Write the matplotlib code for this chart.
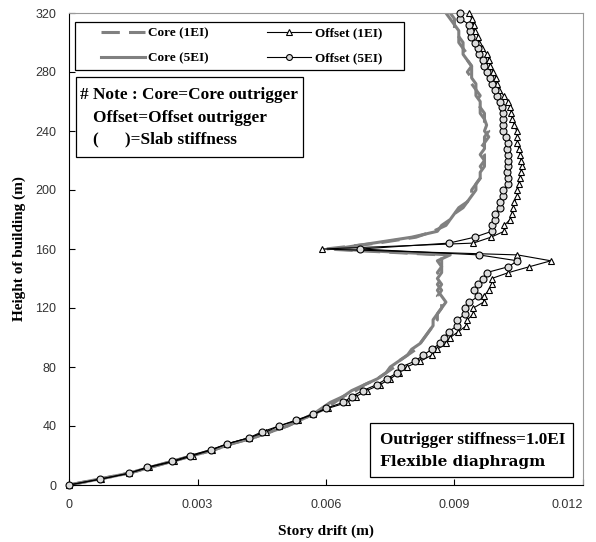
import numpy as np
import matplotlib
matplotlib.use("Agg")
import matplotlib.pyplot as plt
from matplotlib.patches import Rectangle

# story levels (m), one point every 4 m
height = np.arange(0, 324, 4)

core_1ei = [0, 0.0007, 0.0014, 0.0019, 0.0024, 0.0029, 0.0034, 0.0038, 0.0043, 0.0047,
            0.0051, 0.0054, 0.0057, 0.0060, 0.0062, 0.0064, 0.0067, 0.0069, 0.0072, 0.0074,
            0.0076, 0.0077, 0.0079, 0.0081, 0.0082, 0.0083, 0.0084, 0.0085, 0.0086, 0.0086,
            0.0087, 0.0087, 0.0086, 0.0087, 0.0086, 0.0087, 0.0086, 0.0087, 0.0087, 0.0087,
            0.0060, 0.0072, 0.0081, 0.0085, 0.0088, 0.0089, 0.0090, 0.0092, 0.0093, 0.0094,
            0.0094, 0.0095, 0.0096, 0.0097, 0.0096, 0.0097, 0.0097, 0.0096, 0.0097, 0.0097,
            0.0098, 0.0097, 0.0097, 0.0096, 0.0096, 0.0095, 0.0096, 0.0095, 0.0094, 0.0094,
            0.0093, 0.0094, 0.0093, 0.0093, 0.0092, 0.0091, 0.0091, 0.0090, 0.0090, 0.0089,
            0.0088]

core_5ei = [0, 0.0007, 0.0014, 0.0019, 0.0024, 0.0029, 0.0034, 0.0038, 0.0043, 0.0047,
            0.0051, 0.0054, 0.0057, 0.0059, 0.0061, 0.0064, 0.0066, 0.0069, 0.0072, 0.0074,
            0.0075, 0.0077, 0.0079, 0.0080, 0.0082, 0.0083, 0.0084, 0.0085, 0.0085, 0.0086,
            0.0087, 0.0088, 0.0087, 0.0086, 0.0087, 0.0086, 0.0087, 0.0087, 0.0086, 0.0089,
            0.0062, 0.0071, 0.0080, 0.0086, 0.0087, 0.0089, 0.0090, 0.0091, 0.0093, 0.0094,
            0.0095, 0.0095, 0.0096, 0.0096, 0.0097, 0.0097, 0.0096, 0.0097, 0.0097, 0.0098,
            0.0097, 0.00975, 0.0097, 0.0097, 0.0096, 0.0096, 0.0095, 0.0095, 0.0095, 0.0094,
            0.0094, 0.0094, 0.0093, 0.0092, 0.0092, 0.0092, 0.0091, 0.0091, 0.0090, 0.0090,
            0.0089]

offset_1ei = [0, 0.00075, 0.00141, 0.00187, 0.00245, 0.0029, 0.00335, 0.0037, 0.0042, 0.0046,
              0.0049, 0.00535, 0.0057, 0.00605, 0.0065, 0.0067, 0.00695, 0.00726, 0.0075, 0.0077,
              0.00788, 0.0082, 0.00847, 0.0086, 0.0088, 0.0089, 0.00909, 0.00928, 0.0093, 0.00944,
              0.00944, 0.00968, 0.00968, 0.0098, 0.00987, 0.00987, 0.01026, 0.01075, 0.01125, 0.01047,
              0.0059, 0.00944, 0.00985, 0.01016, 0.01016, 0.0103, 0.01034, 0.01037, 0.0104, 0.01047,
              0.01047, 0.0105, 0.01053, 0.01055, 0.01057, 0.01055, 0.01053, 0.0105, 0.01047, 0.01047,
              0.01045, 0.0104, 0.01035, 0.01033, 0.0103, 0.01026, 0.01015, 0.01005, 0.01, 0.00997,
              0.0099, 0.00983, 0.0098, 0.00977, 0.00965, 0.00958, 0.00956, 0.00948, 0.00945, 0.0094,
              0.00935]

offset_5ei = [0, 0.00072, 0.00141, 0.00181, 0.0024, 0.00283, 0.00332, 0.0037, 0.0042, 0.0045,
              0.0049, 0.0053, 0.0057, 0.0060, 0.0064, 0.0066, 0.00686, 0.00718, 0.00742, 0.00766,
              0.00775, 0.00808, 0.00827, 0.00847, 0.00866, 0.00876, 0.00886, 0.00907, 0.00907, 0.00925,
              0.00925, 0.00935, 0.00956, 0.00946, 0.00956, 0.00967, 0.00975, 0.01026, 0.01047, 0.00957,
              0.0068, 0.00887, 0.00947, 0.00987, 0.00987, 0.00995, 0.00995, 0.01006, 0.01006, 0.01014,
              0.01014, 0.01026, 0.01026, 0.01022, 0.01026, 0.01026, 0.01026, 0.01022, 0.01026, 0.0102,
              0.01014, 0.01014, 0.01014, 0.01014, 0.0101, 0.01006, 0.01, 0.00995, 0.00987, 0.00983,
              0.00977, 0.00969, 0.00967, 0.00958, 0.00956, 0.00948, 0.00938, 0.00936, 0.00935, 0.00914,
              0.00914]

x_ticks = [0, 0.003, 0.006, 0.009, 0.012]
x_labels = ["0", "0.003", "0.006", "0.009", "0.012"]
y_ticks = [0, 40, 80, 120, 160, 200, 240, 280, 320]

note_lines = ["# Note : Core=Core outrigger", "Offset=Offset outrigger", "(      )=Slab stiffness"]

serif = "Liberation Serif"
sans = "Liberation Sans"


def ax_xy(px, py):
    # pixel position of the 596x542 picture -> axes fraction
    return (px - 69) / 514, (485 - py) / 472


fig = plt.figure(figsize=(5.96, 5.42), dpi=100)
ax = fig.add_axes([69 / 596, 57 / 542, 514 / 596, 472 / 542])

ax.plot(core_1ei, height, color="#808080", lw=2.2, dashes=(6, 3), label="Core (1EI)", zorder=2)
ax.plot(core_5ei, height, color="#808080", lw=2.2, label="Core (5EI)", zorder=2)
ax.plot(offset_1ei, height, color="black", lw=0.8, marker="^", ms=4.8, mfc="white",
        mec="black", mew=0.8, label="Offset (1EI)", zorder=3, clip_on=False)
ax.plot(offset_5ei, height, color="black", lw=0.8, marker="o", ms=5, mfc="#dcdcdc",
        mec="black", mew=0.8, label="Offset (5EI)", zorder=4, clip_on=False)

ax.set_xlim(0, 0.012)
ax.set_ylim(0, 320)
ax.set_xticks(x_ticks)
ax.set_xticklabels(x_labels)
ax.set_yticks(y_ticks)
ax.tick_params(direction="in", length=4, width=0.8, labelsize=9, labelcolor="#333333", pad=9)
for lab in ax.get_xticklabels() + ax.get_yticklabels():
    lab.set_family(sans)
ax.tick_params(axis="x", pad=10)
ax.get_xticklabels()[-1].set_ha("right")

for side in ["top", "right"]:
    ax.spines[side].set_color("#999999")
for side in ["left", "bottom"]:
    ax.spines[side].set_color("black")

ax.set_xlabel("Story drift (m)", family=serif, weight="bold", fontsize=11, labelpad=10)
ax.set_ylabel("Height of building (m)", family=serif, weight="bold", fontsize=11, labelpad=7)

# legend frame drawn by hand, entries placed inside it
x0, y0 = ax_xy(75, 70)
ax.add_patch(Rectangle((x0, y0), 329 / 514, 47.5 / 472, transform=ax.transAxes,
                       fc="white", ec="black", lw=0.9, zorder=5))
handles, labels = ax.get_legend_handles_labels()
leg = ax.legend(handles, labels, ncol=2, loc="upper left",
                bbox_to_anchor=ax_xy(101, 27),
                borderaxespad=0, borderpad=0, frameon=False, handlelength=3.3,
                columnspacing=4.4, handletextpad=0.3, labelspacing=1.0,
                markerscale=0.85, prop={"family": serif, "weight": "bold", "size": 9.5})
leg.set_zorder(6)

# note box
x0, y0 = ax_xy(76, 157)
ax.add_patch(Rectangle((x0, y0), 227 / 514, 80 / 472, transform=ax.transAxes,
                       fc="white", ec="black", lw=0.9, zorder=5))
for (px, py), line in zip([(80.5, 95), (93, 117.5), (93, 139)], note_lines):
    ax.text(*ax_xy(px, py), line, transform=ax.transAxes, ha="left", va="center",
            family=serif, weight="bold", fontsize=12.4, zorder=6)

# case box
x0, y0 = ax_xy(370, 477)
ax.add_patch(Rectangle((x0, y0), 203 / 514, 54 / 472, transform=ax.transAxes,
                       fc="white", ec="black", lw=0.9, zorder=5))
ax.text(*ax_xy(380, 440), "Outrigger stiffness=1.0EI", transform=ax.transAxes, ha="left",
        va="center", family=serif, weight="bold", fontsize=12.3, zorder=6)
ax.text(*ax_xy(380, 462), "Flexible diaphragm", transform=ax.transAxes, ha="left",
        va="center", family="DejaVu Serif", weight="bold", fontsize=11, zorder=6)

fig.savefig("out.png", dpi=100)
